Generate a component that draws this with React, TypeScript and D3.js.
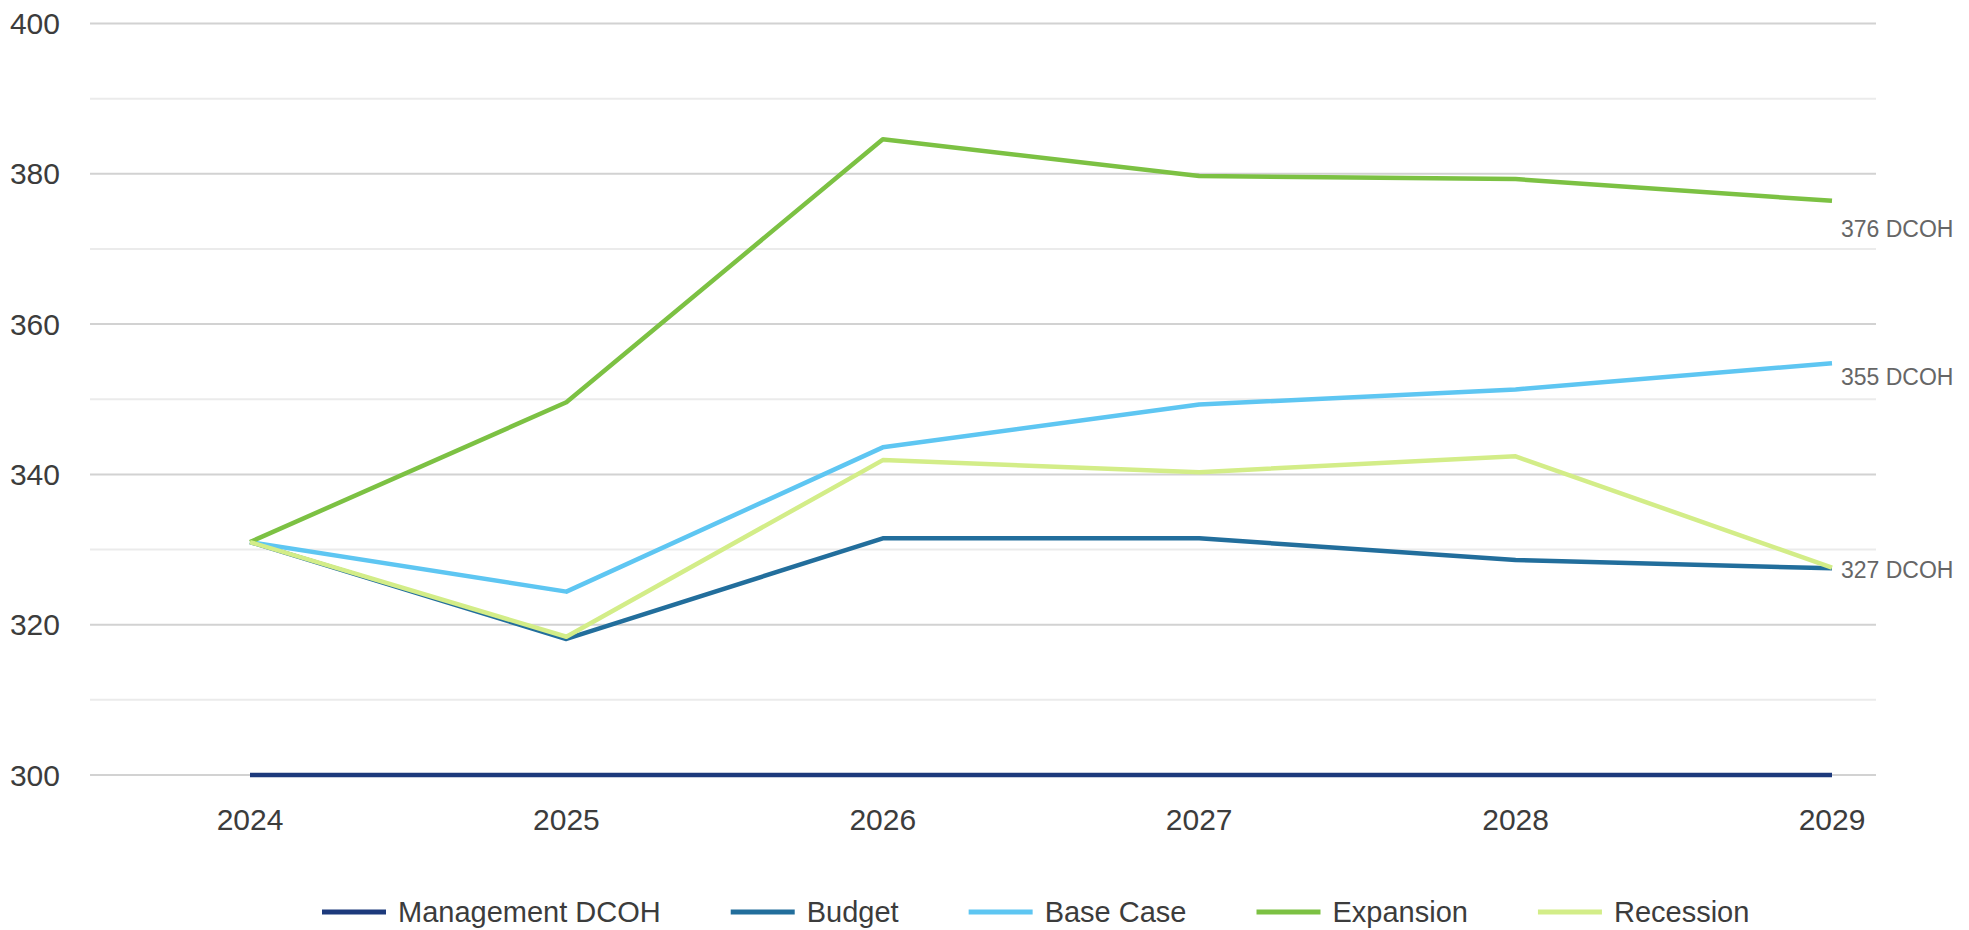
import { useEffect, useRef } from "react";
import * as d3 from "d3";

const years = ["2024", "2025", "2026", "2027", "2028", "2029"];
const yTicks = [300, 320, 340, 360, 380, 400];
const minorTicks = [310, 330, 350, 370, 390];

const seriesNames = ["Management DCOH", "Budget", "Base Case", "Expansion", "Recession"];
const managementDCOH = [300, 300, 300, 300, 300, 300];
const budget = [331, 318.1, 331.5, 331.5, 328.6, 327.5];
const baseCase = [331, 324.4, 343.6, 349.3, 351.3, 354.8];
const expansion = [331, 349.6, 384.6, 379.7, 379.3, 376.4];
const recession = [331, 318.4, 341.9, 340.3, 342.4, 327.6];

const endLabels = [
  { series: "Expansion", text: "376 DCOH" },
  { series: "Base Case", text: "355 DCOH" },
  { series: "Recession", text: "327 DCOH" },
];

const colors: Record<string, string> = {
  "Management DCOH": "#1d3a7c",
  Budget: "#226e9c",
  "Base Case": "#5ec6f2",
  Expansion: "#7cc143",
  Recession: "#d3ed88",
};

const W = 1969;
const H = 930;
const FONT = "'Liberation Sans', Arial, sans-serif";

const App = () => {
  const ref = useRef<SVGSVGElement | null>(null);

  useEffect(() => {
    const svg = d3.select(ref.current);
    svg.selectAll("*").remove();

    const values = [managementDCOH, budget, baseCase, expansion, recession];
    const data = seriesNames.map((name, i) => ({ name, values: values[i] }));

    const x = d3.scalePoint<string>().domain(years).range([250, 1832]);
    const y = d3.scaleLinear().domain([300, 400]).range([775, 23.5]);
    const gridLeft = 90;
    const gridRight = 1876;

    // gridlines
    const grid = svg.append("g");
    grid
      .selectAll("line.minor")
      .data(minorTicks)
      .join("line")
      .attr("class", "minor")
      .attr("x1", gridLeft)
      .attr("x2", gridRight)
      .attr("y1", (d) => y(d))
      .attr("y2", (d) => y(d))
      .attr("stroke", "#ebebeb")
      .attr("stroke-width", 2);
    grid
      .selectAll("line.major")
      .data(yTicks)
      .join("line")
      .attr("class", "major")
      .attr("x1", gridLeft)
      .attr("x2", gridRight)
      .attr("y1", (d) => y(d))
      .attr("y2", (d) => y(d))
      .attr("stroke", "#d2d2d2")
      .attr("stroke-width", 2);

    // y tick labels
    svg
      .append("g")
      .selectAll("text")
      .data(yTicks)
      .join("text")
      .attr("x", 60)
      .attr("y", (d) => y(d))
      .attr("dy", "0.35em")
      .attr("text-anchor", "end")
      .attr("fill", "#3c3c3c")
      .style("font-family", FONT)
      .style("font-size", "30px")
      .text((d) => d);

    // x tick labels
    svg
      .append("g")
      .selectAll("text")
      .data(years)
      .join("text")
      .attr("x", (d) => x(d) as number)
      .attr("y", 830)
      .attr("text-anchor", "middle")
      .attr("fill", "#3c3c3c")
      .style("font-family", FONT)
      .style("font-size", "30px")
      .text((d) => d);

    // lines
    const line = d3
      .line<number>()
      .x((_, i) => x(years[i]) as number)
      .y((d) => y(d));

    svg
      .append("g")
      .selectAll("path")
      .data(data)
      .join("path")
      .attr("d", (d) => line(d.values) as string)
      .attr("fill", "none")
      .attr("stroke", (d) => colors[d.name])
      .attr("stroke-width", 4.5)
      .attr("stroke-linejoin", "round");

    // end labels
    const offsets = [28, 14, 2];
    svg
      .append("g")
      .selectAll("text")
      .data(endLabels)
      .join("text")
      .attr("x", (x(years[years.length - 1]) as number) + 9)
      .attr("y", (d, i) => {
        const s = data.find((e) => e.name === d.series)!;
        return y(s.values[s.values.length - 1]) + offsets[i];
      })
      .attr("dy", "0.35em")
      .attr("fill", "#666666")
      .style("font-family", FONT)
      .style("font-size", "23px")
      .text((d) => d.text);

    // legend
    const legend = svg.append("g");
    let cx = 322;
    const ly = 912;
    data.forEach((d) => {
      legend
        .append("line")
        .attr("x1", cx)
        .attr("x2", cx + 64)
        .attr("y1", ly)
        .attr("y2", ly)
        .attr("stroke", colors[d.name])
        .attr("stroke-width", 5);
      const t = legend
        .append("text")
        .attr("x", cx + 76)
        .attr("y", ly)
        .attr("dy", "0.36em")
        .attr("fill", "#3c3c3c")
        .style("font-family", FONT)
        .style("font-size", "29px")
        .text(d.name);
      const w = (t.node() as SVGTextElement).getComputedTextLength();
      cx = cx + 76 + w + 70;
    });
  }, []);

  return (
    <svg
      ref={ref}
      width={W}
      height={H}
      style={{ position: "absolute", left: 0, top: 0, background: "#fff" }}
    />
  );
};

export default App;
